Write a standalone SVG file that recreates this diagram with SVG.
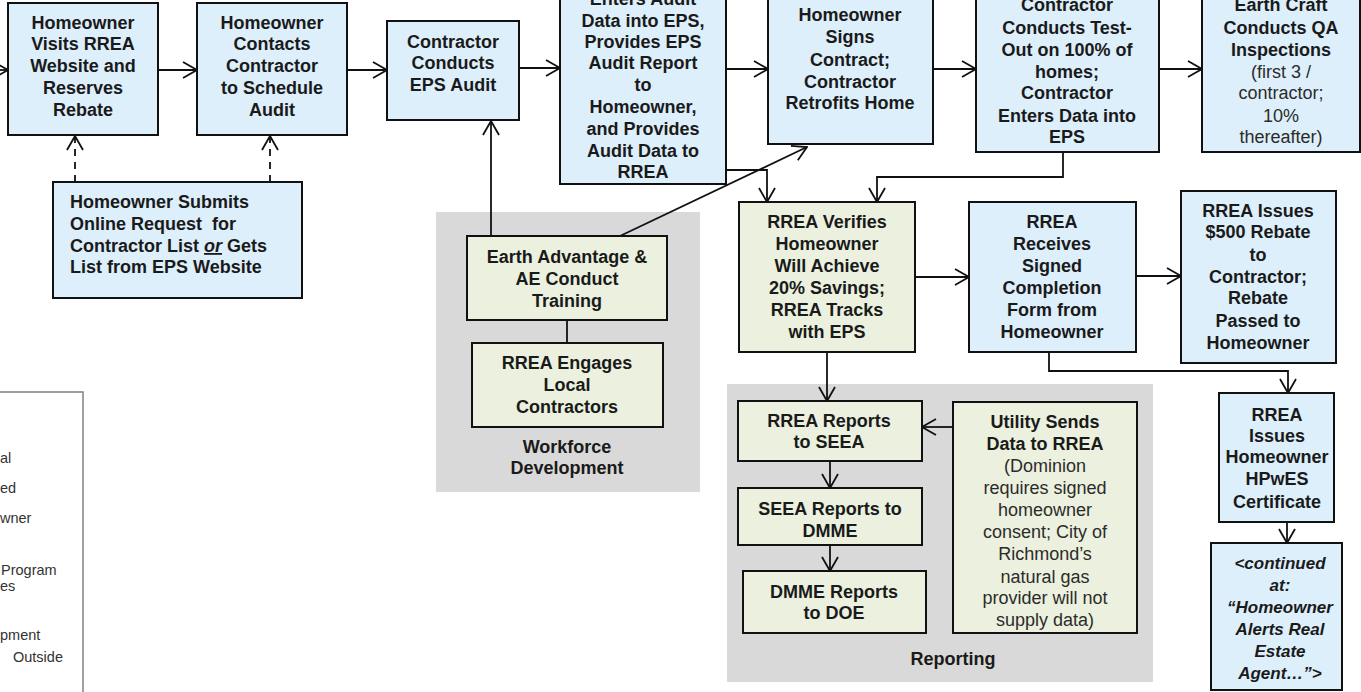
<svg xmlns="http://www.w3.org/2000/svg" width="1361" height="692" viewBox="0 0 1361 692">
<style>
text{font-family:"Liberation Sans",Arial,sans-serif;font-size:18px;fill:#1a1a1a;}
.b{font-weight:bold;text-anchor:middle;}
.n{font-weight:normal;fill:#2b2b2b;}
.bl{fill:#ddeffa;stroke:#111;stroke-width:2;}
.gr{fill:#ebf1de;stroke:#111;stroke-width:2;}
.reg{fill:#d9d9d9;}
.c{fill:none;stroke:#111;stroke-width:1.8;}
.d{stroke-dasharray:7,6;}
.lg{font-size:14.5px;fill:#333;}
</style>
<defs>
<marker id="ah" viewBox="0 0 16 18" refX="15" refY="9" markerWidth="16" markerHeight="18" markerUnits="userSpaceOnUse" orient="auto">
<path d="M1,1 L15,9 L1,17" fill="none" stroke="#111" stroke-width="1.8"/>
</marker>
</defs>
<rect width="1361" height="692" fill="#ffffff"/>

<g id="legend">
<rect x="-200" y="392" width="283" height="420" fill="#fff" stroke="#808080" stroke-width="1.5"/>
<text class="lg" x="0" y="463">al</text>
<text class="lg" x="0" y="493">ed</text>
<text class="lg" x="0" y="523">wner</text>
<text class="lg" x="1" y="575">Program</text>
<text class="lg" x="0" y="591">es</text>
<text class="lg" x="0" y="640">pment</text>
<text class="lg" x="13" y="662">Outside</text>
</g>

<g id="region-workforce">
<rect class="reg" x="436" y="212" width="264" height="280"/>
<text class="b" x="567" y="453">Workforce</text>
<text class="b" x="567" y="474">Development</text>
</g>
<g id="region-reporting">
<rect class="reg" x="727" y="384" width="426" height="298"/>
<text class="b" x="953" y="665">Reporting</text>
</g>

<g id="connectors">
<path class="c" d="M-10,70 H8" marker-end="url(#ah)"/>
<path class="c" d="M158,70 H197" marker-end="url(#ah)"/>
<path class="c" d="M347,70 H387" marker-end="url(#ah)"/>
<path class="c" d="M519,68 H560" marker-end="url(#ah)"/>
<path class="c" d="M726,69 H768" marker-end="url(#ah)"/>
<path class="c" d="M933,69 H976" marker-end="url(#ah)"/>
<path class="c" d="M1159,69 H1202" marker-end="url(#ah)"/>
<path class="c d" d="M75,182 V136" marker-end="url(#ah)"/>
<path class="c d" d="M270,182 V136" marker-end="url(#ah)"/>
<path class="c" d="M491,236 V121" marker-end="url(#ah)"/>
<path class="c" d="M620,236 L807,147" marker-end="url(#ah)"/>
<path class="c" d="M726,170 H767 V202" marker-end="url(#ah)"/>
<path class="c" d="M1063,152 V177 H877 V202" marker-end="url(#ah)"/>
<path class="c" d="M915,277 H969" marker-end="url(#ah)"/>
<path class="c" d="M1136,276 H1181" marker-end="url(#ah)"/>
<path class="c" d="M1049,352 V371 H1288 V393" marker-end="url(#ah)"/>
<path class="c" d="M1287,522 V543" marker-end="url(#ah)"/>
<path class="c" d="M827,352 V401" marker-end="url(#ah)"/>
<path class="c" d="M953,427 H922" marker-end="url(#ah)"/>
<path class="c" d="M830,461 V488" marker-end="url(#ah)"/>
<path class="c" d="M830,545 V571" marker-end="url(#ah)"/>
<path class="c" d="M567,320 V343"/>
</g>

<g id="n-visits">
<rect class="bl" x="8" y="3" width="150" height="132"/>
<text class="b"><tspan x="83" y="29">Homeowner</tspan><tspan x="83" y="50">Visits RREA</tspan><tspan x="83" y="72">Website and</tspan><tspan x="83" y="94">Reserves</tspan><tspan x="83" y="116">Rebate</tspan></text>
</g>
<g id="n-contacts">
<rect class="bl" x="197" y="3" width="150" height="132"/>
<text class="b"><tspan x="272" y="29">Homeowner</tspan><tspan x="272" y="50">Contacts</tspan><tspan x="272" y="72">Contractor</tspan><tspan x="272" y="94">to Schedule</tspan><tspan x="272" y="116">Audit</tspan></text>
</g>
<g id="n-submits">
<rect class="bl" x="53" y="182" width="249" height="116"/>
<text style="font-weight:bold"><tspan x="70" y="208">Homeowner Submits</tspan><tspan x="70" y="230">Online Request&#160; for</tspan><tspan x="70" y="252">Contractor List <tspan style="font-style:italic;text-decoration:underline">or</tspan> Gets</tspan><tspan x="70" y="273">List from EPS Website</tspan></text>
</g>
<g id="n-audit">
<rect class="bl" x="387" y="21" width="132" height="99"/>
<text class="b"><tspan x="453" y="48">Contractor</tspan><tspan x="453" y="69">Conducts</tspan><tspan x="453" y="91">EPS Audit</tspan></text>
</g>
<g id="n-enters">
<rect class="bl" x="560" y="-30" width="166" height="214"/>
<text class="b"><tspan x="643" y="5">Enters Audit</tspan><tspan x="643" y="27">Data into EPS,</tspan><tspan x="643" y="48">Provides EPS</tspan><tspan x="643" y="69">Audit Report</tspan><tspan x="643" y="91">to</tspan><tspan x="643" y="113">Homeowner,</tspan><tspan x="643" y="135">and Provides</tspan><tspan x="643" y="157">Audit Data to</tspan><tspan x="643" y="178">RREA</tspan></text>
</g>
<g id="n-signs">
<rect class="bl" x="768" y="-10" width="165" height="154"/>
<text class="b"><tspan x="850" y="21">Homeowner</tspan><tspan x="850" y="43">Signs</tspan><tspan x="850" y="66">Contract;</tspan><tspan x="850" y="88">Contractor</tspan><tspan x="850" y="109">Retrofits Home</tspan></text>
</g>
<g id="n-testout">
<rect class="bl" x="976" y="-20" width="183" height="172"/>
<text class="b"><tspan x="1067" y="11">Contractor</tspan><tspan x="1067" y="34">Conducts Test-</tspan><tspan x="1067" y="56">Out on 100% of</tspan><tspan x="1067" y="78">homes;</tspan><tspan x="1067" y="99">Contractor</tspan><tspan x="1067" y="122">Enters Data into</tspan><tspan x="1067" y="143">EPS</tspan></text>
</g>
<g id="n-earthcraft">
<rect class="bl" x="1202" y="-20" width="158" height="172"/>
<text class="b"><tspan x="1281" y="11">Earth Craft</tspan><tspan x="1281" y="34">Conducts QA</tspan><tspan x="1281" y="56">Inspections</tspan><tspan class="n" x="1281" y="78">(first 3 /</tspan><tspan class="n" x="1281" y="99">contractor;</tspan><tspan class="n" x="1281" y="122">10%</tspan><tspan class="n" x="1281" y="143">thereafter)</tspan></text>
</g>
<g id="n-training">
<rect class="gr" x="467" y="236" width="200" height="84"/>
<text class="b"><tspan x="567" y="263">Earth Advantage &amp;</tspan><tspan x="567" y="285">AE Conduct</tspan><tspan x="567" y="307">Training</tspan></text>
</g>
<g id="n-engages">
<rect class="gr" x="472" y="343" width="191" height="84"/>
<text class="b"><tspan x="567" y="369">RREA Engages</tspan><tspan x="567" y="391">Local</tspan><tspan x="567" y="413">Contractors</tspan></text>
</g>
<g id="n-verifies">
<rect class="gr" x="739" y="202" width="176" height="150"/>
<text class="b"><tspan x="827" y="228">RREA Verifies</tspan><tspan x="827" y="250">Homeowner</tspan><tspan x="827" y="272">Will Achieve</tspan><tspan x="827" y="294">20% Savings;</tspan><tspan x="827" y="316">RREA Tracks</tspan><tspan x="827" y="338">with EPS</tspan></text>
</g>
<g id="n-receives">
<rect class="bl" x="969" y="202" width="167" height="150"/>
<text class="b"><tspan x="1052" y="228">RREA</tspan><tspan x="1052" y="250">Receives</tspan><tspan x="1052" y="272">Signed</tspan><tspan x="1052" y="294">Completion</tspan><tspan x="1052" y="316">Form from</tspan><tspan x="1052" y="338">Homeowner</tspan></text>
</g>
<g id="n-rebate">
<rect class="bl" x="1181" y="191" width="155" height="172"/>
<text class="b"><tspan x="1258" y="217">RREA Issues</tspan><tspan x="1258" y="238">$500 Rebate</tspan><tspan x="1258" y="261">to</tspan><tspan x="1258" y="283">Contractor;</tspan><tspan x="1258" y="304">Rebate</tspan><tspan x="1258" y="327">Passed to</tspan><tspan x="1258" y="349">Homeowner</tspan></text>
</g>
<g id="n-certificate">
<rect class="bl" x="1219" y="393" width="115" height="129"/>
<text class="b"><tspan x="1277" y="421">RREA</tspan><tspan x="1277" y="442">Issues</tspan><tspan x="1277" y="463">Homeowner</tspan><tspan x="1277" y="485">HPwES</tspan><tspan x="1277" y="508">Certificate</tspan></text>
</g>
<g id="n-continued">
<rect class="bl" x="1211" y="543" width="131" height="147"/>
<text class="b" style="font-style:italic;font-size:17px"><tspan x="1280" y="569">&lt;continued</tspan><tspan x="1280" y="591">at:</tspan><tspan x="1280" y="613">“Homeowner</tspan><tspan x="1280" y="635">Alerts Real</tspan><tspan x="1280" y="657">Estate</tspan><tspan x="1280" y="679">Agent…”&gt;</tspan></text>
</g>
<g id="n-rrea-reports">
<rect class="gr" x="738" y="401" width="184" height="60"/>
<text class="b"><tspan x="829" y="427">RREA Reports</tspan><tspan x="829" y="448">to SEEA</tspan></text>
</g>
<g id="n-seea-reports">
<rect class="gr" x="738" y="488" width="184" height="57"/>
<text class="b"><tspan x="830" y="515">SEEA Reports to</tspan><tspan x="830" y="537">DMME</tspan></text>
</g>
<g id="n-dmme-reports">
<rect class="gr" x="743" y="571" width="183" height="62"/>
<text class="b"><tspan x="834" y="598">DMME Reports</tspan><tspan x="834" y="619">to DOE</tspan></text>
</g>
<g id="n-utility">
<rect class="gr" x="953" y="402" width="184" height="231"/>
<text class="b"><tspan x="1045" y="428">Utility Sends</tspan><tspan x="1045" y="450">Data to RREA</tspan><tspan class="n" x="1045" y="472">(Dominion</tspan><tspan class="n" x="1045" y="494">requires signed</tspan><tspan class="n" x="1045" y="516">homeowner</tspan><tspan class="n" x="1045" y="538">consent; City of</tspan><tspan class="n" x="1045" y="560">Richmond’s</tspan><tspan class="n" x="1045" y="583">natural gas</tspan><tspan class="n" x="1045" y="604">provider will not</tspan><tspan class="n" x="1045" y="626">supply data)</tspan></text>
</g>
</svg>
